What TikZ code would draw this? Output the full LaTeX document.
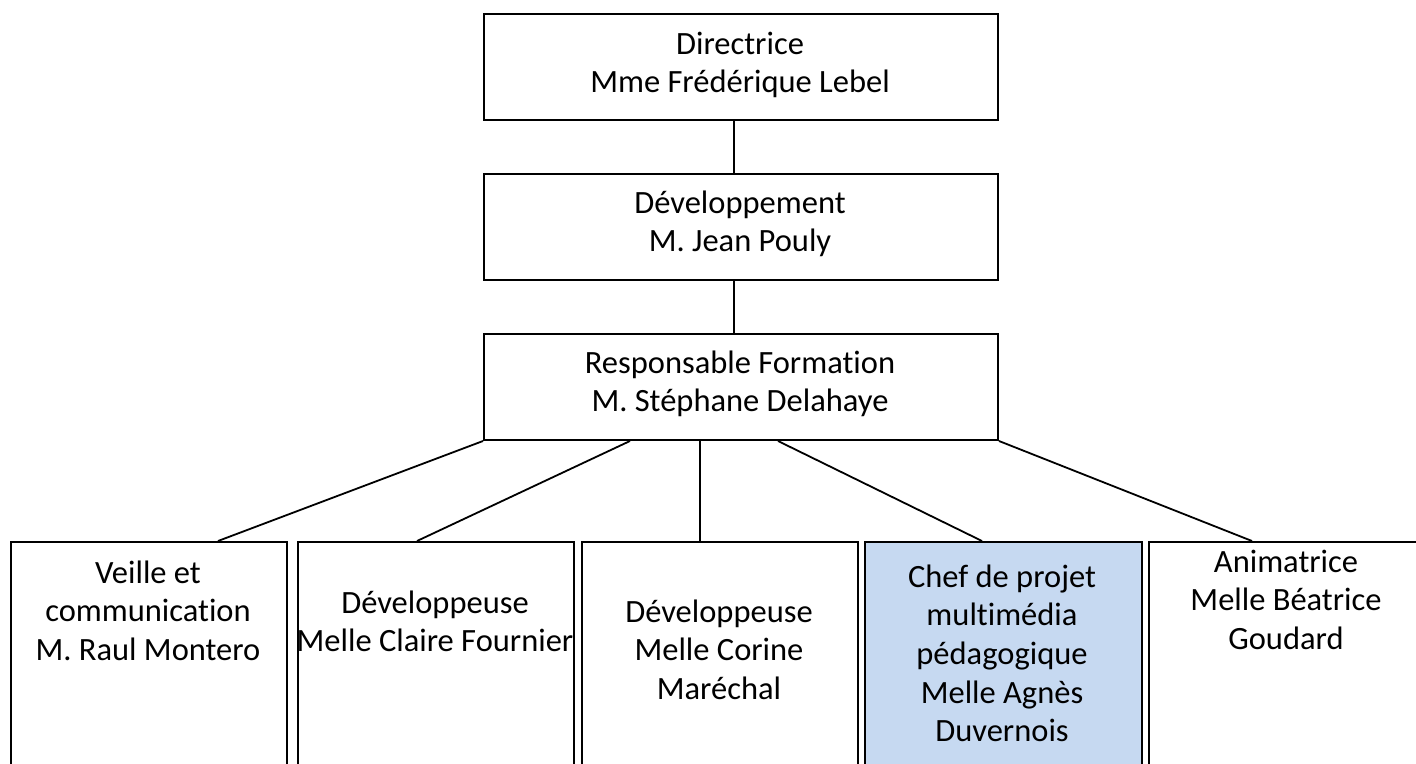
\documentclass[tikz,border=0pt]{standalone}
\usepackage{fontspec}
\setmainfont{Carlito}[Ligatures={NoCommon,NoContextual}]
\usetikzlibrary{calc}
\definecolor{chefblue}{RGB}{198,217,241}
\newcommand\stacklines[1]{\vtop{\baselineskip=38.7pt\lineskiplimit=-100pt\halign{\hfil##\hfil\cr#1\crcr}}}
\tikzset{
  orgbox/.style={draw=black, line width=2pt, fill=white, inner sep=0pt, anchor=north west},
  topbox/.style={orgbox, minimum width=514pt, minimum height=106pt},
  lowbox/.style={orgbox, minimum width=276pt, minimum height=300pt},
  lbl/.style={anchor=base, inner sep=0pt, font=\fontsize{32.5pt}{38.7pt}\selectfont, text=black},
  conn/.style={draw=black, line width=1.8pt}
}
\begin{document}
\begin{tikzpicture}[x=1pt,y=-1pt]
\useasboundingbox (0,0) rectangle (1416,763);
\clip (0,0) rectangle (1416,763);
% top chain
\node[topbox] (dir) at (483,13) {};
\node[topbox] (dev) at (483,173) {};
\node[topbox] (resp) at (483,333) {};
\node[lbl] (dirt) at (740,54) {\stacklines{Directrice\cr Mme Frédérique Lebel}};
\node[lbl] (devt) at (740,213) {\stacklines{Développement\cr M. Jean Pouly}};
\node[lbl] (respt) at (740,373) {\stacklines{Responsable Formation\cr M. Stéphane Delahaye}};
% bottom row
\node[lowbox] (veil) at (10,541) {};
\node[lowbox] (claire) at (297,541) {};
\node[lowbox] (corine) at (581,541) {};
\node[lowbox, fill=chefblue, minimum width=277pt] (chef) at (864,541) {};
\node[lowbox] (anim) at (1148,541) {};
\node[lbl] (veilt) at (148,583) {\stacklines{Veille et\cr communication\cr M. Raul Montero}};
\node[lbl] (clairet) at (435,613) {\stacklines{Développeuse\cr Melle Claire Fournier}};
\node[lbl] (corinet) at (719,622) {\stacklines{Développeuse\cr Melle Corine\cr Maréchal}};
\node[lbl] (cheft) at (1002,587) {\stacklines{Chef de projet\cr multimédia\cr pédagogique\cr Melle Agnès\cr Duvernois}};
\node[lbl] (animt) at (1286,572) {\stacklines{Animatrice\cr Melle Béatrice\cr Goudard}};
% connectors
\draw[conn] ([xshift=251pt]dir.south west) -- ([xshift=251pt]dev.north west);
\draw[conn] ([xshift=251pt]dev.south west) -- ([xshift=251pt]resp.north west);
\draw[conn] (resp.south west) -- ([xshift=208pt]veil.north west);
\draw[conn] ([xshift=147pt]resp.south west) -- ([xshift=120pt]claire.north west);
\draw[conn] ([xshift=217pt]resp.south west) -- ([xshift=119pt]corine.north west);
\draw[conn] ([xshift=295pt]resp.south west) -- ([xshift=118pt]chef.north west);
\draw[conn] (resp.south east) -- ([xshift=104pt]anim.north west);
\end{tikzpicture}
\end{document}
